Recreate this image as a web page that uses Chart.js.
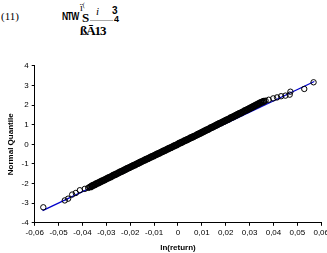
<!DOCTYPE html>
<html>
<head>
<meta charset="utf-8">
<script src="https://cdn.jsdelivr.net/npm/chart.js@4.4.1/dist/chart.umd.min.js"></script>
<style>
  html, body { margin:0; padding:0; width:327px; height:253px; overflow:hidden; background:#fff; }
  .hdr { position:absolute; font-family:"Liberation Serif", serif; color:#000; white-space:nowrap; line-height:1; }
  .eq { position:absolute; font-family:"Liberation Sans", sans-serif; font-weight:bold; color:#000; white-space:nowrap; line-height:1; }
  #wrap { position:absolute; left:0; top:58px; width:331px; height:195px; }
</style>
</head>
<body>
<!-- equation header (garbled in the source) -->
<div class="hdr" style="left:1px;top:11px;font-size:11px;">(11)</div>
<div class="eq" style="left:62px;top:12px;font-size:10px;letter-spacing:-1.2px;transform:scaleX(0.85);transform-origin:left;">NTW</div>
<div class="hdr" style="left:80px;top:2px;font-size:10px;">ï<sup style="font-size:6px">(</sup></div>
<div class="hdr" style="left:96px;top:6px;font-size:11px;font-style:italic;">i</div>
<div class="eq" style="left:112px;top:6px;font-size:10px;">3</div>
<div class="hdr" style="left:82px;top:11px;font-size:13px;font-weight:bold;">S</div>
<div style="position:absolute;left:90px;top:20px;width:23px;height:1px;background:#aaa;"></div>
<div class="eq" style="left:114px;top:15px;font-size:9px;">4</div>
<div class="hdr" style="left:80px;top:24px;font-size:13px;font-weight:bold;letter-spacing:-1px;">ßĀ13</div>
<div id="wrap"><canvas id="qq"></canvas></div>
<script>
// sample: sorted ln(return) and its normal quantile
const lnReturn = [
  -0.0564, -0.0474, -0.0460, -0.0443, -0.0428, -0.0411, -0.0390, -0.0376, -0.0371,
  -0.0366, -0.0360, -0.0354, -0.0348, -0.0342, -0.0336, -0.0330, -0.0324, -0.0318, -0.0312,
  -0.0306, -0.0300, -0.0294, -0.0288, -0.0282, -0.0276, -0.0270, -0.0264, -0.0258, -0.0252,
  -0.0246, -0.0240, -0.0234, -0.0228, -0.0222, -0.0216, -0.0210, -0.0204, -0.0198, -0.0192,
  -0.0186, -0.0180, -0.0174, -0.0168, -0.0162, -0.0156, -0.0150, -0.0144, -0.0138, -0.0132,
  -0.0126, -0.0120, -0.0114, -0.0108, -0.0102, -0.0096, -0.0090, -0.0084, -0.0078, -0.0072,
  -0.0066, -0.0060, -0.0054, -0.0048, -0.0042, -0.0036, -0.0030, -0.0024, -0.0018, -0.0012,
  -0.0006, 0.0000, 0.0006, 0.0012, 0.0018, 0.0024, 0.0030, 0.0036, 0.0042, 0.0048,
  0.0054, 0.0060, 0.0066, 0.0072, 0.0078, 0.0084, 0.0090, 0.0096, 0.0102, 0.0108,
  0.0114, 0.0120, 0.0126, 0.0132, 0.0138, 0.0144, 0.0150, 0.0156, 0.0162, 0.0168,
  0.0174, 0.0180, 0.0186, 0.0192, 0.0198, 0.0204, 0.0210, 0.0216, 0.0222, 0.0228,
  0.0234, 0.0240, 0.0246, 0.0252, 0.0258, 0.0264, 0.0270, 0.0276, 0.0282, 0.0288,
  0.0294, 0.0300, 0.0306, 0.0312, 0.0318, 0.0324, 0.0330, 0.0336, 0.0342, 0.0348,
  0.0354, 0.0360,
  0.0367, 0.0380, 0.0399, 0.0415, 0.0432, 0.0450, 0.0468, 0.0471, 0.0529, 0.0568
];
const normalQuantile = [
  -3.21, -2.86, -2.77, -2.56, -2.48, -2.34, -2.27, -2.22, -2.19,
  -2.17, -2.12, -2.09, -2.06, -2.01, -1.98, -1.95, -1.91, -1.87, -1.84,
  -1.80, -1.76, -1.73, -1.69, -1.66, -1.62, -1.58, -1.55, -1.51, -1.48,
  -1.44, -1.40, -1.37, -1.33, -1.30, -1.26, -1.22, -1.19, -1.15, -1.12,
  -1.08, -1.05, -1.01, -0.98, -0.94, -0.90, -0.87, -0.83, -0.80, -0.76,
  -0.73, -0.69, -0.66, -0.62, -0.59, -0.55, -0.52, -0.48, -0.45, -0.41,
  -0.38, -0.34, -0.31, -0.27, -0.24, -0.20, -0.17, -0.13, -0.10, -0.06,
  -0.03, 0.01, 0.05, 0.08, 0.12, 0.15, 0.19, 0.22, 0.26, 0.29,
  0.33, 0.36, 0.40, 0.43, 0.47, 0.51, 0.54, 0.58, 0.62, 0.65,
  0.69, 0.73, 0.76, 0.80, 0.84, 0.87, 0.91, 0.95, 0.98, 1.02,
  1.06, 1.09, 1.13, 1.16, 1.20, 1.24, 1.27, 1.31, 1.35, 1.38,
  1.42, 1.46, 1.49, 1.53, 1.57, 1.60, 1.64, 1.68, 1.72, 1.75,
  1.79, 1.83, 1.86, 1.90, 1.94, 1.98, 2.02, 2.05, 2.09, 2.13,
  2.16, 2.20,
  2.22, 2.27, 2.34, 2.39, 2.45, 2.48, 2.53, 2.68, 2.82, 3.16
];
// fitted normal line end points
const fitX = [-0.0567, 0.0571];
const fitY = [-3.38, 3.20];

const xTicks = [-0.06, -0.05, -0.04, -0.03, -0.02, -0.01, 0, 0.01, 0.02, 0.03, 0.04, 0.05, 0.06];
const yTicks = [-4, -3, -2, -1, 0, 1, 2, 3, 4];

const pts = lnReturn.map((x, i) => ({ x: x, y: normalQuantile[i] }));
const fit = fitX.map((x, i) => ({ x: x, y: fitY[i] }));

const tickFont = { family: 'Liberation Sans, Arial, sans-serif', size: 8 };
const titleFont = { family: 'Liberation Sans, Arial, sans-serif', size: 8, weight: 'bold' };

// sparse tail markers look thinner than the packed middle band
const tailBorder = ctx => {
  const i = ctx.dataIndex;
  return (i < 9 || i >= lnReturn.length - 10) ? 1 : 1.5;
};

new Chart(document.getElementById('qq'), {
  type: 'scatter',
  data: {
    datasets: [
      { data: pts, pointStyle: 'circle', pointRadius: 2.7, borderWidth: tailBorder,
        borderColor: '#000', backgroundColor: 'rgba(0,0,0,0)', showLine: false },
      { type: 'line', data: fit, borderColor: '#0000CC', borderWidth: 1.3,
        pointRadius: 0, fill: false, tension: 0 }
    ]
  },
  options: {
    responsive: true, maintainAspectRatio: false, animation: false,
    devicePixelRatio: 1,
    layout: { padding: { top: 4, right: 0, left: 6, bottom: 0 } },
    plugins: { legend: { display: false }, tooltip: { enabled: false } },
    scales: {
      x: {
        type: 'linear', min: -0.06, max: 0.06,
        afterBuildTicks: ax => { ax.ticks = xTicks.map(v => ({ value: v })); },
        ticks: { font: tickFont, color: '#000', padding: 2, maxRotation: 0, autoSkip: false,
          callback: v => v === 0 ? '0' : v.toFixed(2).replace('.', ',') },
        grid: { display: true, drawOnChartArea: false, drawTicks: true, tickLength: 3, color: '#000', lineWidth: 1 },
        border: { color: '#000', width: 1 },
        title: { display: true, text: 'ln(return)', font: titleFont, color: '#000', padding: { top: 4, bottom: 0 } }
      },
      y: {
        type: 'linear', min: -4, max: 4,
        afterBuildTicks: ax => { ax.ticks = yTicks.map(v => ({ value: v })); },
        ticks: { font: tickFont, color: '#000', padding: 3 },
        grid: { display: true, drawOnChartArea: false, drawTicks: true, tickLength: 3, color: '#000', lineWidth: 1 },
        border: { color: '#000', width: 1 },
        title: { display: true, text: 'Normal Quantile', font: titleFont, color: '#000', padding: { top: 0, bottom: 3 } }
      }
    }
  }
});
</script>
</body>
</html>
